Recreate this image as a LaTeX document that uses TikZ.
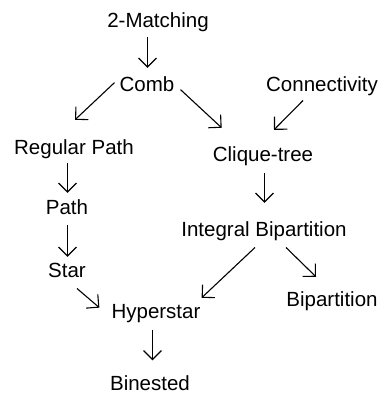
\documentclass[tikz,border=0pt]{standalone}
\usepackage{fontspec}
\setmainfont{Liberation Sans}
\usetikzlibrary{positioning,calc,arrows.meta}

\begin{document}
\begin{tikzpicture}[x=1pt,y=1pt,>={Straight Barb[length=9pt,width=18pt]}]
		
		\tikzset{
			prob/.style={inner sep=0pt, anchor=base, text height=15pt, text depth=4.3pt,
				font=\fontsize{20.5}{24}\selectfont},
			red/.style={->, line width=1.1pt}
		}
		
		\useasboundingbox (0,0) rectangle (382,394);
		
		% ===== PROBLEMS =====
		\node[prob] (match)  at (158,366) {2-Matching};
		\node[prob] (comb)   at (147,302) {Comb};
		\node[prob] (conn)   at (322,302) {Connectivity};
		\node[prob] (regp)   at (74,239)  {Regular Path};
		\node[prob] (clique) at (263,232) {Clique-tree};
		\node[prob] (path)   at (67,179)  {Path};
		\node[prob] (intbip) at (264,157) {Integral Bipartition};
		\node[prob] (star)   at (67,116)  {Star};
		\node[prob] (bip)    at (332,87)  {Bipartition};
		\node[prob] (hyper)  at (156,75)  {Hyperstar};
		\node[prob] (bin)    at (150,3.5) {Binested};
		
		% ===== REDUCTIONS =====
		\draw[red, shorten <=5pt, shorten >=9pt] ([xshift=0.5pt]match.south -| comb.north) -- ([xshift=0.5pt]comb.north);
		\draw[red] ([xshift=-5pt,yshift=4pt]comb.west) -- ([xshift=1pt,yshift=20pt]regp.north);
		\draw[red] ([xshift=6pt,yshift=-3pt]comb.east) -- ([xshift=9pt,yshift=19pt]clique.north west);
		\draw[red] ([xshift=-19pt,yshift=-4pt]conn.south) -- ([xshift=11pt,yshift=17pt]clique.north);
		
		\draw[red, shorten <=4pt, shorten >=7pt] ([xshift=0.5pt]regp.south -| path.north) -- ([xshift=0.5pt]path.north);
		\draw[red, shorten <=5.7pt, shorten >=6pt] ([xshift=0.5pt]path.south) -- ([xshift=0.5pt]star.north);
		\draw[red, shorten <=6.7pt, shorten >=19pt] ([xshift=0.5pt]clique.south -| intbip.north) -- ([xshift=0.5pt]intbip.north);
		
		\draw[red] ([xshift=-9pt,yshift=-6pt]intbip.south) -- ([xshift=1pt,yshift=6pt]hyper.north east);
		\draw[red] ([xshift=22pt,yshift=-6pt]intbip.south) -- ([xshift=-16pt,yshift=15pt]bip.north);
		\draw[red] ([xshift=10pt,yshift=-6pt]star.south) -- ([xshift=-12pt,yshift=6pt]hyper.west);
		\draw[red, shorten <=6.7pt, shorten >=15pt] ([xshift=2.5pt]hyper.south -| bin.north) -- ([xshift=2.5pt]bin.north);
		
	\end{tikzpicture}
\end{document}
